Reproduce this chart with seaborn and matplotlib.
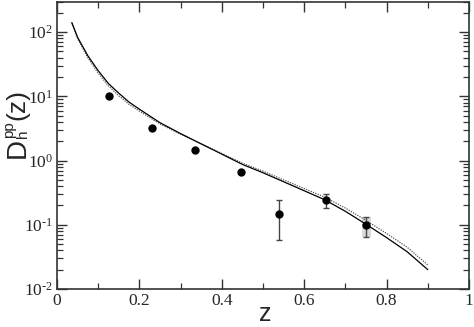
import numpy as np
import pandas as pd
import matplotlib
matplotlib.use("Agg")
import matplotlib.pyplot as plt
import seaborn as sns
from matplotlib.ticker import LogLocator, MultipleLocator, NullFormatter, FixedLocator

# ---- data ----
curve_z = [0.036, 0.05, 0.075, 0.1, 0.125, 0.15, 0.175, 0.2, 0.25, 0.3, 0.35,
           0.4, 0.45, 0.5, 0.55, 0.6, 0.65, 0.7, 0.75, 0.8, 0.85, 0.9]
solid_D = [141, 83, 42.7, 25.1, 15.8, 11.2, 8.13, 6.31, 3.89, 2.63, 1.82,
           1.26, 0.871, 0.646, 0.468, 0.339, 0.245, 0.162, 0.102, 0.0631, 0.0380, 0.0200]
dotted_D = [138, 79.4, 39.8, 22.9, 14.5, 10.2, 7.50, 5.89, 3.72, 2.57, 1.82,
            1.29, 0.912, 0.684, 0.501, 0.367, 0.269, 0.182, 0.117, 0.0733, 0.0447, 0.0237]

data_z = [0.125, 0.23, 0.335, 0.447, 0.54, 0.652, 0.75]
data_D = [10.0, 3.2, 1.45, 0.67, 0.148, 0.24, 0.099]
data_lo = [10.0, 3.2, 1.45, 0.67, 0.058, 0.18, 0.065]
data_hi = [10.0, 3.2, 1.45, 0.67, 0.24, 0.30, 0.132]

# systematic band (grey box) for the last point
box_z = [0.7395, 0.7615]
box_D = [0.065, 0.132]

xticks = [0, 0.2, 0.4, 0.6, 0.8, 1]
xticklabels = ["0", "0.2", "0.4", "0.6", "0.8", "1"]
yticks = [1e-2, 1e-1, 1e0, 1e1, 1e2]
yticklabels = ["$10^{\u20102}$", "$10^{\u20101}$", "$10^{0}$", "$10^{1}$", "$10^{2}$"]

# ---- style ----
sns.set_style("ticks")
plt.rcParams["font.family"] = ["Liberation Serif", "DejaVu Serif"]
plt.rcParams["mathtext.fontset"] = "custom"
plt.rcParams["mathtext.rm"] = "Liberation Serif"
plt.rcParams["mathtext.sf"] = "Liberation Sans"
plt.rcParams["mathtext.it"] = "Liberation Serif:italic"

W, H = 474, 327
fig = plt.figure(figsize=(W / 100, H / 100), dpi=100)
ax = fig.add_axes([57/W, 1 - 289/H, (469 - 57)/W, (289 - 1.5)/H])

curves = pd.DataFrame({"z": curve_z, "solid": solid_D, "dotted": dotted_D})
pts = pd.DataFrame({"z": data_z, "D": data_D})

# grey box
ax.fill_between(box_z, [box_D[0]]*2, [box_D[1]]*2, color="#d9d9d9", lw=0, zorder=1)

sns.lineplot(data=curves, x="z", y="dotted", ax=ax, color="#555555", lw=0.9,
             linestyle=(0, (1, 1)), zorder=2)
sns.lineplot(data=curves, x="z", y="solid", ax=ax, color="black", lw=0.9, zorder=3)

yerr = np.array([np.array(data_D) - np.array(data_lo), np.array(data_hi) - np.array(data_D)])
ax.errorbar(data_z, data_D, yerr=yerr, fmt="none", ecolor="#444444", elinewidth=1.0,
            capsize=2.5, capthick=1.0, zorder=4)
sns.scatterplot(data=pts, x="z", y="D", ax=ax, color="black", s=36, edgecolor="black",
                linewidth=0, zorder=5)

ax.set_yscale("log")
ax.set_xlim(0, 1)
ax.set_ylim(1e-2, 300)

ax.xaxis.set_major_locator(FixedLocator(xticks))
ax.set_xticklabels(xticklabels)
ax.xaxis.set_minor_locator(MultipleLocator(0.1))
ax.yaxis.set_major_locator(FixedLocator(yticks))
ax.set_yticklabels(yticklabels)
ax.yaxis.set_minor_locator(LogLocator(base=10, subs=np.arange(2, 10)))
ax.yaxis.set_minor_formatter(NullFormatter())

ax.tick_params(which="both", direction="in", top=True, right=True, color="#333333")
ax.tick_params(which="major", length=7, width=1.0, labelsize=12.5, pad=3)
ax.tick_params(which="minor", length=4, width=0.9)
ax.tick_params(axis="x", which="major", pad=3)

for s in ax.spines.values():
    s.set_linewidth(1.2)
    s.set_color("#333333")

ax.set_xlabel("z", fontsize=18, family="Liberation Sans", va="baseline")
ax.xaxis.set_label_coords(0.505, -0.112)
ax.set_ylabel("")

# y label  D_h^pp(z), built from pieces (positions in pixels from top-left)
def piece(s, x_base, y_top, size):
    fig.text(x_base / W, 1 - y_top / H, s, fontsize=size, family="Liberation Sans",
             rotation=90, rotation_mode="anchor", ha="left", va="baseline")

piece("D", 24.5, 158, 20)
piece("h", 27.5, 137.5, 11)
piece("pp", 13.5, 137.5, 11)
piece("(z)", 24.5, 120.5, 19)

fig.savefig("out.png", dpi=100)
